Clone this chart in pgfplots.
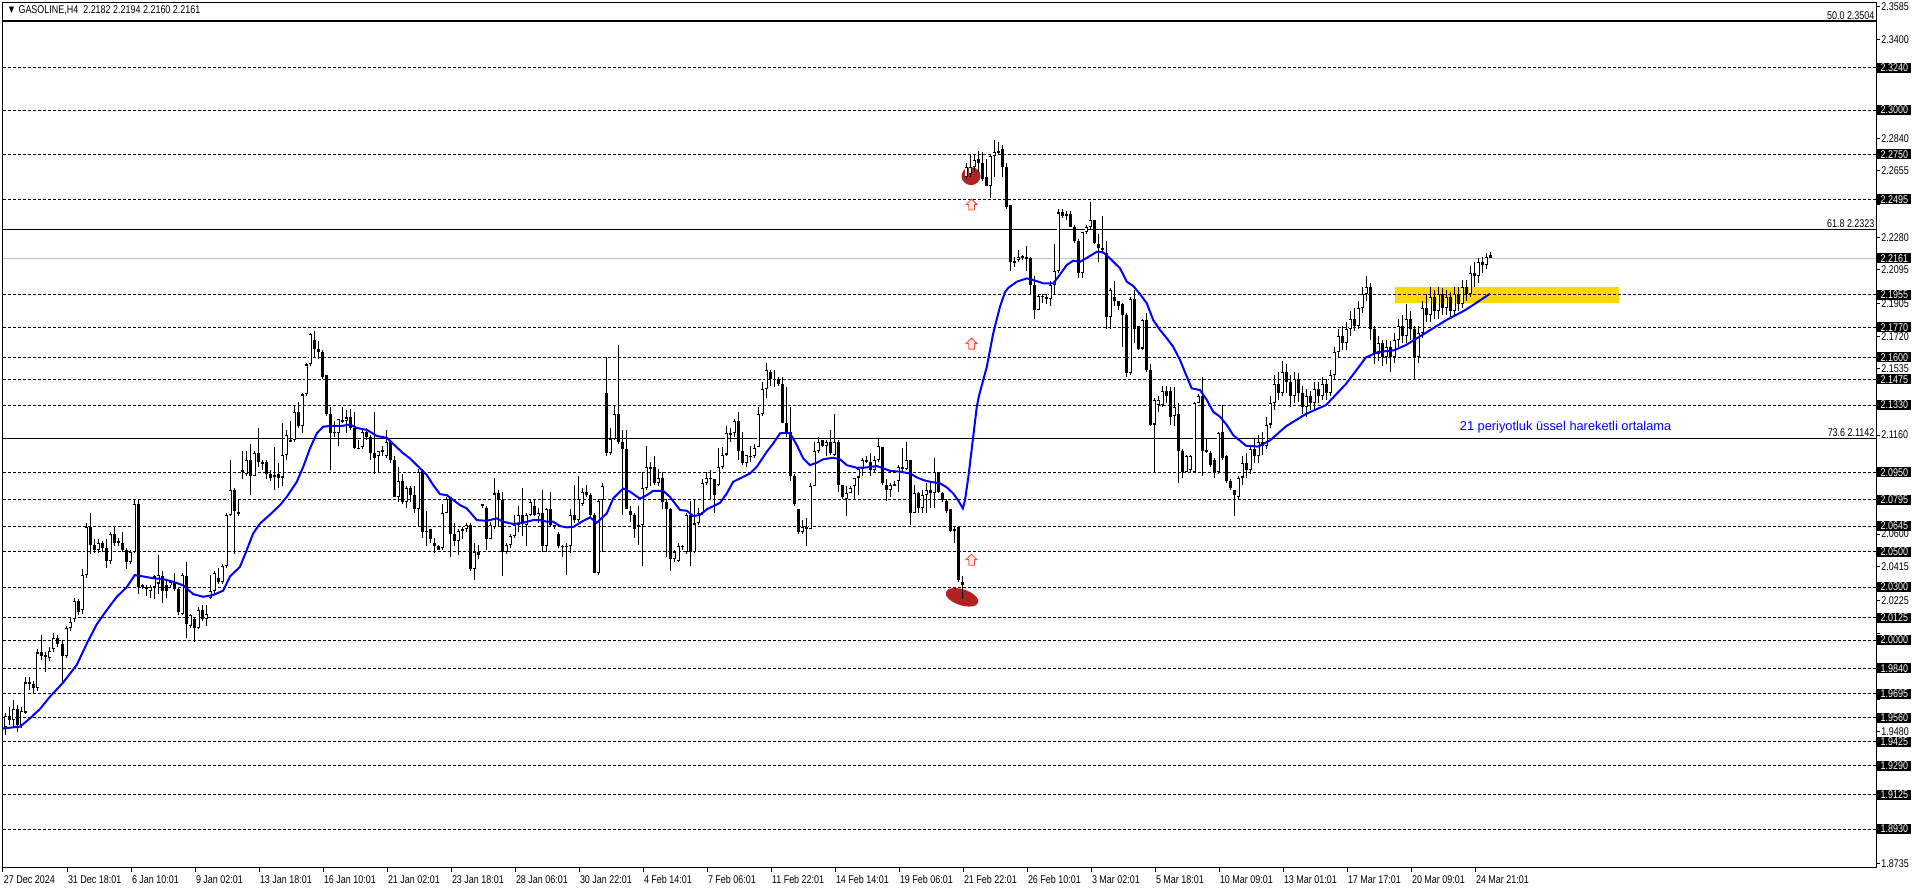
\documentclass[border=0pt]{standalone}
\usepackage{pgfplots}
\pgfplotsset{compat=1.18}
\usepackage{pgfplotstable}
\usepackage{fontspec}
\setmainfont{Liberation Sans}
\newfontfamily\mtfont[FakeStretch=0.8]{Liberation Sans}
\usetikzlibrary{shapes.arrows,shapes.geometric}
\definecolor{mtblue}{RGB}{0,0,255}
\definecolor{mtred}{RGB}{178,34,34}
\definecolor{mtgold}{RGB}{255,215,0}
\definecolor{mtgray}{RGB}{192,192,192}
\definecolor{arrowred}{RGB}{255,70,70}
\definecolor{arrowfill}{RGB}{255,236,220}
\newcommand{\mtsize}{\mtfont\fontsize{5.6pt}{6.5pt}\selectfont}

\pgfplotstableread{
i o c h l
0 1.951 1.957 1.959 1.946
1 1.957 1.955 1.962 1.952
2 1.955 1.961 1.966 1.950
3 1.961 1.952 1.963 1.948
4 1.952 1.960 1.962 1.950
5 1.959 1.976 1.979 1.958
6 1.976 1.975 1.979 1.972
7 1.975 1.973 1.977 1.970
8 1.973 1.993 1.995 1.971
9 1.993 1.991 2.003 1.989
10 1.991 1.991 1.993 1.982
11 1.990 1.994 1.996 1.988
12 1.995 2.001 2.004 1.993
13 2.001 1.998 2.003 1.996
14 1.998 1.991 2.000 1.976
15 1.991 2.007 2.008 1.990
16 2.007 2.010 2.013 2.005
17 2.012 2.022 2.024 2.010
18 2.022 2.016 2.023 2.014
19 2.017 2.037 2.040 2.015
20 2.037 2.064 2.066 2.035
21 2.064 2.054 2.072 2.049
22 2.054 2.051 2.057 2.049
23 2.051 2.055 2.057 2.049
24 2.055 2.052 2.056 2.050
25 2.052 2.045 2.057 2.041
26 2.045 2.060 2.061 2.043
27 2.060 2.055 2.064 2.053
28 2.055 2.056 2.058 2.053
29 2.055 2.051 2.061 2.050
30 2.051 2.044 2.052 2.040
31 2.044 2.050 2.051 2.043
32 2.050 2.077 2.079 2.049
33 2.077 2.030 2.080 2.026
34 2.030 2.031 2.032 2.029
35 2.030 2.029 2.031 2.025
36 2.028 2.030 2.031 2.024
37 2.030 2.036 2.037 2.023
38 2.032 2.037 2.048 2.026
39 2.036 2.028 2.039 2.021
40 2.031 2.028 2.034 2.024
41 2.031 2.033 2.034 2.030
42 2.033 2.029 2.038 2.028
43 2.029 2.016 2.030 2.014
44 2.015 2.037 2.038 2.014
45 2.036 2.009 2.044 2.001
46 2.008 2.014 2.015 2.007
47 2.012 2.007 2.013 1.999
48 2.007 2.017 2.019 2.006
49 2.017 2.012 2.020 2.011
50 2.012 2.015 2.020 2.008
51 2.024 2.028 2.037 2.023
52 2.028 2.038 2.039 2.026
53 2.035 2.033 2.041 2.032
54 2.033 2.042 2.043 2.032
55 2.042 2.071 2.072 2.041
56 2.071 2.085 2.102 2.070
57 2.085 2.073 2.086 2.049
58 2.072 2.072 2.079 2.070
59 2.095 2.096 2.107 2.091
60 2.094 2.102 2.107 2.093
61 2.102 2.093 2.111 2.082
62 2.093 2.106 2.107 2.093
63 2.106 2.101 2.120 2.098
64 2.101 2.100 2.102 2.096
65 2.101 2.094 2.102 2.091
66 2.094 2.092 2.096 2.090
67 2.093 2.093 2.109 2.085
68 2.094 2.092 2.100 2.086
69 2.092 2.105 2.123 2.087
70 2.105 2.116 2.119 2.102
71 2.112 2.113 2.124 2.112
72 2.113 2.129 2.133 2.112
73 2.129 2.121 2.135 2.120
74 2.121 2.139 2.140 2.117
75 2.139 2.156 2.157 2.138
76 2.156 2.173 2.174 2.155
77 2.170 2.165 2.175 2.160
78 2.165 2.163 2.169 2.159
79 2.163 2.149 2.164 2.148
80 2.150 2.128 2.150 2.127
81 2.128 2.117 2.132 2.096
82 2.118 2.117 2.124 2.115
83 2.117 2.125 2.125 2.110
84 2.124 2.124 2.132 2.123
85 2.124 2.126 2.130 2.117
86 2.126 2.120 2.131 2.119
87 2.120 2.109 2.129 2.108
88 2.108 2.109 2.113 2.108
89 2.109 2.118 2.119 2.108
90 2.118 2.115 2.120 2.113
91 2.115 2.106 2.116 2.102
92 2.106 2.103 2.129 2.094
93 2.104 2.107 2.107 2.095
94 2.107 2.107 2.110 2.104
95 2.104 2.112 2.119 2.103
96 2.112 2.102 2.113 2.100
97 2.102 2.081 2.104 2.081
98 2.081 2.090 2.098 2.078
99 2.090 2.078 2.094 2.077
100 2.078 2.086 2.087 2.075
101 2.086 2.082 2.087 2.078
102 2.082 2.074 2.087 2.072
103 2.074 2.095 2.097 2.064
104 2.096 2.061 2.097 2.058
105 2.061 2.062 2.073 2.053
106 2.063 2.057 2.063 2.055
107 2.055 2.053 2.058 2.049
108 2.053 2.051 2.054 2.051
109 2.052 2.072 2.077 2.051
110 2.072 2.080 2.081 2.072
111 2.081 2.060 2.081 2.047
112 2.060 2.056 2.066 2.053
113 2.056 2.062 2.063 2.048
114 2.062 2.063 2.064 2.057
115 2.063 2.065 2.066 2.061
116 2.065 2.040 2.066 2.039
117 2.040 2.050 2.055 2.034
118 2.050 2.048 2.054 2.046
119 2.076 2.077 2.077 2.075
120 2.075 2.057 2.076 2.051
121 2.057 2.065 2.067 2.057
122 2.064 2.083 2.092 2.063
123 2.083 2.079 2.085 2.064
124 2.079 2.050 2.084 2.036
125 2.050 2.054 2.055 2.049
126 2.054 2.059 2.060 2.052
127 2.059 2.065 2.071 2.058
128 2.065 2.071 2.076 2.061
129 2.071 2.067 2.086 2.059
130 2.065 2.071 2.072 2.053
131 2.071 2.078 2.079 2.070
132 2.076 2.071 2.079 2.070
133 2.070 2.072 2.075 2.066
134 2.072 2.053 2.085 2.050
135 2.053 2.074 2.075 2.050
136 2.074 2.065 2.084 2.064
137 2.065 2.064 2.065 2.063
138 2.060 2.053 2.061 2.052
139 2.053 2.053 2.054 2.047
140 2.053 2.053 2.055 2.037
141 2.053 2.071 2.074 2.049
142 2.071 2.068 2.088 2.066
143 2.068 2.080 2.093 2.067
144 2.077 2.084 2.086 2.076
145 2.084 2.082 2.088 2.081
146 2.082 2.071 2.083 2.069
147 2.071 2.038 2.072 2.038
148 2.038 2.079 2.080 2.037
149 2.079 2.087 2.089 2.050
150 2.140 2.106 2.160 2.104
151 2.106 2.114 2.120 2.105
152 2.114 2.128 2.133 2.113
153 2.128 2.112 2.167 2.111
154 2.112 2.108 2.119 2.071
155 2.108 2.074 2.119 2.074
156 2.073 2.071 2.076 2.067
157 2.071 2.063 2.072 2.058
158 2.064 2.065 2.076 2.054
159 2.065 2.086 2.095 2.042
160 2.086 2.098 2.110 2.085
161 2.097 2.098 2.101 2.087
162 2.098 2.089 2.104 2.088
163 2.089 2.092 2.097 2.087
164 2.092 2.078 2.095 2.074
165 2.078 2.074 2.080 2.047
166 2.074 2.046 2.075 2.039
167 2.046 2.050 2.051 2.044
168 2.045 2.053 2.055 2.044
169 2.053 2.053 2.054 2.051
170 2.050 2.071 2.072 2.049
171 2.071 2.050 2.079 2.042
172 2.050 2.066 2.079 2.049
173 2.066 2.072 2.075 2.065
174 2.072 2.089 2.091 2.071
175 2.089 2.092 2.095 2.088
176 2.092 2.091 2.096 2.079
177 2.091 2.082 2.091 2.072
178 2.088 2.098 2.109 2.087
179 2.098 2.105 2.109 2.097
180 2.105 2.117 2.121 2.104
181 2.117 2.116 2.120 2.112
182 2.117 2.124 2.125 2.115
183 2.124 2.107 2.129 2.102
184 2.107 2.100 2.118 2.099
185 2.100 2.105 2.105 2.098
186 2.104 2.104 2.110 2.101
187 2.104 2.109 2.111 2.103
188 2.109 2.128 2.132 2.109
189 2.128 2.142 2.146 2.127
190 2.142 2.153 2.157 2.137
191 2.152 2.148 2.153 2.144
192 2.148 2.147 2.153 2.143
193 2.148 2.145 2.149 2.144
194 2.145 2.123 2.149 2.123
195 2.123 2.118 2.143 2.115
196 2.118 2.093 2.132 2.090
197 2.093 2.077 2.094 2.076
198 2.074 2.061 2.074 2.060
199 2.061 2.064 2.068 2.060
200 2.064 2.063 2.069 2.053
201 2.063 2.087 2.089 2.063
202 2.087 2.107 2.112 2.087
203 2.107 2.112 2.115 2.106
204 2.113 2.110 2.113 2.109
205 2.110 2.112 2.113 2.104
206 2.112 2.106 2.119 2.105
207 2.105 2.112 2.128 2.104
208 2.112 2.088 2.113 2.084
209 2.088 2.081 2.088 2.080
210 2.080 2.083 2.087 2.070
211 2.083 2.086 2.087 2.083
212 2.087 2.092 2.092 2.079
213 2.092 2.097 2.097 2.082
214 2.097 2.102 2.103 2.093
215 2.102 2.101 2.104 2.100
216 2.101 2.096 2.106 2.093
217 2.096 2.102 2.104 2.095
218 2.102 2.110 2.114 2.101
219 2.109 2.089 2.109 2.088
220 2.088 2.085 2.091 2.079
221 2.085 2.088 2.089 2.081
222 2.088 2.088 2.090 2.087
223 2.090 2.098 2.099 2.084
224 2.098 2.097 2.109 2.095
225 2.097 2.102 2.112 2.096
226 2.102 2.072 2.102 2.065
227 2.072 2.083 2.088 2.072
228 2.083 2.075 2.084 2.072
229 2.075 2.082 2.085 2.072
230 2.082 2.085 2.089 2.072
231 2.085 2.083 2.089 2.075
232 2.083 2.095 2.103 2.075
233 2.095 2.084 2.095 2.083
234 2.083 2.079 2.084 2.078
235 2.079 2.073 2.080 2.072
236 2.074 2.062 2.074 2.061
237 2.062 2.063 2.064 2.055
238 2.064 2.034 2.064 2.033
239 2.033 2.031 2.036 2.023
240 2.262 2.268 2.270 2.261
241 2.264 2.268 2.275 2.262
242 2.268 2.272 2.275 2.265
243 2.272 2.270 2.277 2.265
244 2.270 2.261 2.276 2.260
245 2.262 2.257 2.272 2.257
246 2.257 2.274 2.275 2.250
247 2.274 2.276 2.283 2.262
248 2.276 2.277 2.282 2.275
249 2.278 2.268 2.280 2.262
250 2.268 2.245 2.270 2.244
251 2.246 2.214 2.246 2.209
252 2.214 2.214 2.217 2.211
253 2.215 2.217 2.221 2.214
254 2.217 2.217 2.218 2.215
255 2.217 2.216 2.223 2.209
256 2.216 2.201 2.217 2.196
257 2.201 2.187 2.206 2.182
258 2.187 2.195 2.196 2.187
259 2.195 2.194 2.196 2.191
260 2.194 2.193 2.196 2.190
261 2.193 2.201 2.203 2.189
262 2.201 2.209 2.224 2.196
263 2.209 2.242 2.244 2.208
264 2.242 2.240 2.244 2.239
265 2.240 2.241 2.243 2.238
266 2.241 2.234 2.243 2.234
267 2.234 2.226 2.235 2.225
268 2.226 2.208 2.227 2.205
269 2.208 2.231 2.231 2.205
270 2.231 2.234 2.235 2.230
271 2.234 2.238 2.248 2.232
272 2.238 2.225 2.238 2.224
273 2.224 2.222 2.230 2.214
274 2.221 2.222 2.240 2.219
275 2.219 2.183 2.226 2.176
276 2.183 2.198 2.199 2.176
277 2.194 2.192 2.203 2.189
278 2.192 2.189 2.192 2.187
279 2.190 2.184 2.191 2.166
280 2.184 2.151 2.185 2.149
281 2.151 2.193 2.194 2.150
282 2.193 2.176 2.198 2.168
283 2.178 2.165 2.178 2.164
284 2.165 2.181 2.182 2.164
285 2.181 2.153 2.185 2.152
286 2.153 2.122 2.156 2.121
287 2.122 2.136 2.137 2.095
288 2.133 2.136 2.138 2.129
289 2.133 2.141 2.144 2.132
290 2.141 2.138 2.144 2.134
291 2.141 2.126 2.143 2.122
292 2.127 2.132 2.143 2.121
293 2.128 2.107 2.134 2.089
294 2.107 2.095 2.108 2.092
295 2.095 2.104 2.105 2.095
296 2.096 2.104 2.105 2.095
297 2.095 2.134 2.135 2.095
298 2.134 2.138 2.139 2.134
299 2.138 2.107 2.149 2.093
300 2.107 2.107 2.114 2.106
301 2.106 2.099 2.107 2.098
302 2.102 2.095 2.103 2.092
303 2.095 2.117 2.118 2.094
304 2.118 2.103 2.133 2.102
305 2.104 2.090 2.105 2.089
306 2.090 2.086 2.091 2.085
307 2.085 2.082 2.085 2.070
308 2.081 2.092 2.093 2.079
309 2.092 2.100 2.104 2.088
310 2.100 2.096 2.106 2.092
311 2.096 2.108 2.110 2.094
312 2.108 2.104 2.114 2.100
313 2.104 2.112 2.116 2.100
314 2.112 2.110 2.118 2.105
315 2.110 2.122 2.126 2.108
316 2.122 2.134 2.138 2.120
317 2.134 2.145 2.150 2.130
318 2.145 2.140 2.152 2.136
319 2.140 2.152 2.158 2.138
320 2.152 2.146 2.156 2.140
321 2.146 2.138 2.150 2.132
322 2.138 2.148 2.152 2.134
323 2.148 2.140 2.151 2.135
324 2.140 2.132 2.144 2.128
325 2.132 2.138 2.142 2.126
326 2.138 2.134 2.141 2.130
327 2.134 2.142 2.146 2.131
328 2.142 2.138 2.146 2.134
329 2.138 2.145 2.149 2.136
330 2.145 2.140 2.148 2.136
331 2.140 2.150 2.153 2.138
332 2.150 2.163 2.166 2.148
333 2.163 2.172 2.176 2.160
334 2.172 2.168 2.178 2.164
335 2.168 2.176 2.180 2.164
336 2.176 2.182 2.186 2.172
337 2.182 2.178 2.188 2.175
338 2.178 2.188 2.192 2.176
339 2.188 2.196 2.200 2.185
340 2.196 2.200 2.206 2.192
341 2.200 2.176 2.202 2.170
342 2.176 2.162 2.178 2.156
343 2.162 2.168 2.172 2.158
344 2.168 2.160 2.170 2.155
345 2.160 2.166 2.170 2.156
346 2.166 2.160 2.169 2.152
347 2.160 2.170 2.174 2.157
348 2.170 2.178 2.182 2.166
349 2.178 2.172 2.184 2.168
350 2.172 2.182 2.190 2.168
351 2.182 2.176 2.186 2.170
352 2.176 2.160 2.178 2.147
353 2.160 2.174 2.178 2.157
354 2.174 2.188 2.192 2.171
355 2.188 2.184 2.196 2.180
356 2.184 2.194 2.200 2.180
357 2.194 2.186 2.198 2.182
358 2.186 2.196 2.200 2.182
359 2.196 2.188 2.199 2.184
360 2.188 2.194 2.198 2.184
361 2.194 2.186 2.197 2.182
362 2.186 2.196 2.200 2.183
363 2.196 2.190 2.200 2.186
364 2.190 2.200 2.204 2.188
365 2.200 2.196 2.204 2.192
366 2.196 2.208 2.212 2.194
367 2.208 2.206 2.214 2.200
368 2.206 2.214 2.216 2.202
369 2.214 2.212 2.217 2.208
370 2.212 2.217 2.219 2.210
371 2.2182 2.2161 2.2194 2.2160
}\candles

\begin{document}
\begin{tikzpicture}
\begin{axis}[
  at={(0,0)}, anchor=south west,
  scale only axis, width=936.5pt, height=432.5pt,
  xmin=-0.75, xmax=467.5, ymin=1.8710, ymax=2.36057,
  set layers, clip=false,
  axis line style={line width=0.5pt, black},
  tick align=outside, major tick length=2pt,
  tick style={black, line width=0.5pt},
  xtick pos=left, ytick pos=right, yticklabel pos=right,
  xtick={-0.75,15.25,31.25,47.25,63.25,79.25,95.25,111.25,127.25,143.25,159.25,175.25,191.25,207.25,223.25,239.25,255.25,271.25,287.25,303.25,319.25,335.25,351.25,367.25},
  xticklabels={27 Dec 2024,31 Dec 18:01,6 Jan 10:01,9 Jan 02:01,13 Jan 18:01,16 Jan 10:01,21 Jan 02:01,23 Jan 18:01,28 Jan 06:01,30 Jan 22:01,4 Feb 14:01,7 Feb 06:01,11 Feb 22:01,14 Feb 14:01,19 Feb 06:01,21 Feb 22:01,26 Feb 10:01,3 Mar 02:01,5 Mar 18:01,10 Mar 09:01,13 Mar 01:01,17 Mar 17:01,20 Mar 09:01,24 Mar 21:01},
  ytick={2.3585,2.3400,2.3210,2.3025,2.2840,2.2655,2.2465,2.2280,2.2095,2.1905,2.1720,2.1535,2.1345,2.1160,2.0970,2.0785,2.0600,2.0415,2.0225,2.0040,1.9850,1.9665,1.9480,1.9295,1.9105,1.8920,1.8735},
  yticklabels={2.3585,2.3400,,,2.2840,2.2655,,2.2280,2.2095,2.1905,2.1720,2.1535,,2.1160,,,2.0600,2.0415,2.0225,,,,1.9480,,,,1.8735},
  xticklabel style={font=\mtsize, anchor=north west, inner sep=0pt, xshift=0.3pt, yshift=-1.5pt},
  yticklabel style={font=\mtsize, anchor=west, inner sep=0pt, xshift=0.5pt},
]
% yellow zone
\addplot[draw=none, fill=mtgold, forget plot] coordinates {(347.25,2.1908) (403.25,2.1908) (403.25,2.1998) (347.25,2.1998)} -- cycle;
% dashed levels
\pgfplotsinvokeforeach{2.3240,2.3000,2.2750,2.2495,2.1955,2.1770,2.1600,2.1475,2.1330,2.0950,2.0795,2.0645,2.0500,2.0300,2.0125,2.0000,1.9840,1.9695,1.9560,1.9425,1.9290,1.9125,1.8930}{
  \addplot[black, line width=0.5pt, dash pattern=on 1.5pt off 1pt, forget plot] coordinates {(-0.75,#1) (467.5,#1)};
}
% fibonacci lines
\pgfplotsinvokeforeach{2.3504,2.2323,2.1142}{
  \addplot[black, line width=0.6pt, forget plot] coordinates {(-0.75,#1) (467.5,#1)};
}
% current price line
\addplot[mtgray, line width=0.5pt, forget plot] coordinates {(-0.75,2.2161) (467.5,2.2161)};
% red ellipses
\node[ellipse, fill=mtred, minimum width=9.5pt, minimum height=9pt, inner sep=0pt] at (axis cs:241.25,2.2626) {};
\node[ellipse, fill=mtred, minimum width=17pt, minimum height=8pt, inner sep=0pt, rotate=-18] at (axis cs:239,2.0242) {};
% candles: wicks
\addplot[draw=none, mark=none, forget plot,
  error bars/.cd, y dir=both, y explicit, error mark=none,
  error bar style={draw=black, line width=0.5pt, solid}]
  table[x=i, y expr={(\thisrow{h}+\thisrow{l})/2}, y error expr={(\thisrow{h}-\thisrow{l})/2}] {\candles};
% candle bodies
\addplot[draw=none, mark=none, forget plot,
  error bars/.cd, y dir=both, y explicit, error mark=none,
  error bar style={draw=black, line width=1.5pt, solid}]
  table[x=i, y expr={(\thisrow{o}+\thisrow{c})/2}, y error expr={max(abs(\thisrow{c}-\thisrow{o})/2,0.0003)}] {\candles};
% white interiors of up candles
\addplot[draw=none, mark=none, forget plot,
  error bars/.cd, y dir=both, y explicit, error mark=none,
  error bar style={draw=white, line width=0.55pt, solid}]
  table[x=i, y expr={(\thisrow{o}+\thisrow{c})/2}, y error expr={(\thisrow{c}>\thisrow{o})*max(abs(\thisrow{c}-\thisrow{o})/2-0.0006,0)}] {\candles};
% EMA 21
\addplot[mtblue, line width=1pt] coordinates {
(-0.75,1.950) (3.5,1.951) (6,1.9557) (8.5,1.961) (11,1.968) (14.3,1.976) (17.7,1.986) (20.2,1.998) (22.7,2.009) (25.2,2.017) (27.7,2.0245) (30.2,2.030) (32.2,2.0368) (34.3,2.036) (36.8,2.035) (39.3,2.0345) (41.8,2.033) (44.3,2.031) (46.8,2.026) (49.3,2.0245) (51.8,2.0255) (54.3,2.028) (56,2.036) (58.5,2.0415) (60.2,2.051) (61.8,2.0604) (63.5,2.066) (66,2.071) (68.5,2.0764) (70.2,2.0811) (72.7,2.0896) (74.3,2.098) (76,2.1085) (77.7,2.117) (79.3,2.1208) (81.8,2.1213) (84.3,2.1213) (86,2.122) (87.7,2.120) (90.2,2.119) (92.7,2.1155) (95.2,2.1145) (96.8,2.111) (99.3,2.1057) (101,2.1028) (102.7,2.099) (105.2,2.0934) (106.8,2.0877) (108.5,2.0826) (110.2,2.082) (111.8,2.0793) (113.5,2.0764) (115.2,2.0745) (117.7,2.0679) (120.2,2.0675) (122.7,2.0689) (124.3,2.067) (126.8,2.0657) (129.3,2.0664) (131.8,2.0679) (133.5,2.0679) (135.2,2.067) (136.8,2.067) (138.5,2.0645) (140.2,2.0638) (141.8,2.064) (144.3,2.0675) (146,2.0694) (147.7,2.0664) (149.3,2.0698) (150.2,2.0717) (151.8,2.0802) (154.3,2.0858) (156,2.084) (158.5,2.080) (160.2,2.082) (161.8,2.0845) (164.3,2.0845) (166,2.081) (168.5,2.0736) (170.2,2.0732) (171.8,2.0702) (173.5,2.0708) (175.2,2.074) (176.8,2.0758) (178.5,2.0777) (180.2,2.083) (181.8,2.0896) (184.3,2.0924) (186,2.0943) (187.7,2.0981) (190.2,2.1066) (191.8,2.1113) (193.5,2.117) (195.2,2.1174) (196,2.117) (197.7,2.1104) (199.3,2.1028) (201,2.099) (202.7,2.1004) (204.3,2.1023) (206.8,2.1032) (208.5,2.1023) (210.2,2.099) (212.7,2.0975) (215.2,2.0977) (217.7,2.0985) (219.3,2.0972) (221,2.0958) (223.5,2.0953) (226,2.0943) (227.7,2.0921) (229.3,2.0906) (231,2.0896) (233.5,2.0887) (235.2,2.0864) (236.8,2.083) (238.1,2.0789) (239.2,2.0745) (239.75,2.0792) (240.6,2.0925) (241.7,2.1132) (242.7,2.1321) (243.3,2.1387) (245.2,2.1547) (246.8,2.1736) (248.5,2.1887) (249.75,2.197) (250.6,2.1994) (252.7,2.2028) (255.2,2.2047) (256.8,2.2038) (259.3,2.2019) (261.8,2.2019) (263.1,2.2057) (265.2,2.2123) (266.8,2.2147) (268.5,2.2141) (271,2.2174) (272.7,2.2198) (274.3,2.2194) (276,2.216) (278.5,2.2104) (280.2,2.2028) (281.8,2.2004) (283.5,2.1958) (285.2,2.1906) (286.8,2.1811) (288.5,2.1755) (290.2,2.1708) (291.8,2.166) (293.5,2.1585) (295.2,2.1491) (296.4,2.1425) (298.5,2.1415) (300.2,2.1359) (301.8,2.1292) (303.5,2.1264) (305.2,2.1217) (306.8,2.116) (308.5,2.1128) (310,2.110) (313,2.1095) (316,2.113) (320,2.121) (325,2.128) (330,2.133) (335,2.145) (340,2.160) (343,2.163) (347,2.164) (350,2.167) (355,2.174) (360,2.181) (365,2.187) (371,2.196)
};
% arrows
\pgfplotsinvokeforeach{2.2457,2.1670,2.0447}{
  \node[single arrow, draw=arrowred, fill=arrowfill, line width=0.4pt, shape border rotate=90, minimum height=5.5pt, inner sep=1.2pt, single arrow head extend=1.3pt, single arrow tip angle=90] at (axis cs:241.4,#1) {};
}
% fib labels
\node[anchor=south east, inner sep=0.6pt, font=\mtsize] at (axis cs:467.5,2.3504) {50.0 2.3504};
\node[anchor=south east, inner sep=0.6pt, font=\mtsize] at (axis cs:467.5,2.2323) {61.8 2.2323};
\node[anchor=south east, inner sep=0.6pt, font=\mtsize] at (axis cs:467.5,2.1142) {73.6 2.1142};
% EMA annotation
\node[font=\fontsize{6.4pt}{7pt}\selectfont, text=mtblue] at (axis cs:389.9,2.1206) {21 periyotluk üssel hareketli ortalama};
% title
\node[anchor=west, inner sep=0pt, font=\mtsize] at (axis cs:0.2,2.3565) {▼ GASOLINE,H4\ \ 2.2182 2.2194 2.2160 2.2161};
% right black price boxes
\begin{pgfonlayer}{axis foreground}
\pgfplotsinvokeforeach{2.3240,2.3000,2.2750,2.2495,2.2161,2.1955,2.1770,2.1600,2.1475,2.1330,2.0950,2.0795,2.0645,2.0500,2.0300,2.0125,2.0000,1.9840,1.9695,1.9560,1.9425,1.9290,1.9125,1.8930}{
  \node[anchor=west, fill=black, text=white, font=\mtsize, inner xsep=1.6pt, inner ysep=0pt, minimum height=5pt, xshift=0.5pt] at (axis cs:467.5,#1) {#1};
}
\end{pgfonlayer}
\end{axis}
\pgfresetboundingbox
\path[use as bounding box] (-1.5pt,-10pt) rectangle (956.5pt,434pt);
\end{tikzpicture}
\end{document}
